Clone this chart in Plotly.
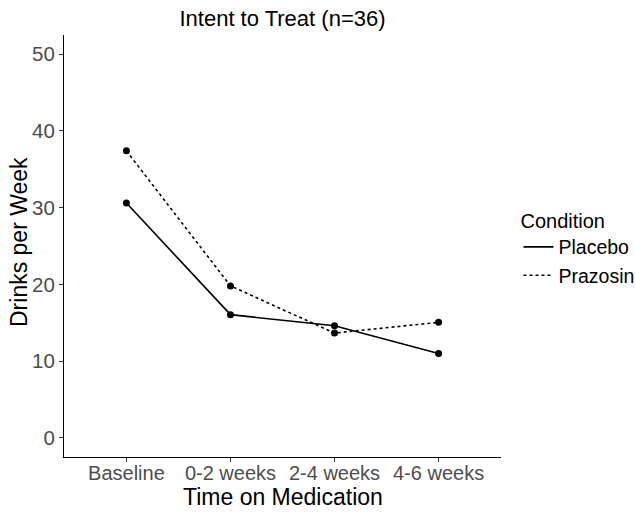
import plotly.graph_objects as go

categories = ["Baseline", "0-2 weeks", "2-4 weeks", "4-6 weeks"]
placebo = [30.6, 16.05, 14.6, 11.0]
prazosin = [37.4, 19.8, 13.65, 15.05]
y_ticks = [0, 10, 20, 30, 40, 50]

FONT = "Liberation Sans, Arial, sans-serif"
L, R, T, B = 64, 134, 35, 55
W, H = 635, 512
PH = H - T - B

fig = go.Figure()
for name, vals, dash in [("Placebo", placebo, "solid"), ("Prazosin", prazosin, "dot")]:
    fig.add_trace(go.Scatter(
        x=[1, 2, 3, 4], y=vals, name=name, mode="lines",
        line=dict(color="black", width=1.6, dash=dash),
    ))
for name, vals in [("Placebo", placebo), ("Prazosin", prazosin)]:
    fig.add_trace(go.Scatter(
        x=[1, 2, 3, 4], y=vals, name=name, mode="markers", showlegend=False,
        marker=dict(color="black", size=7),
    ))

fig.update_layout(
    width=W, height=H,
    margin=dict(l=L, r=R, t=T, b=B, autoexpand=False),
    paper_bgcolor="white", plot_bgcolor="white",
    font=dict(family=FONT, color="black"),
    title=dict(text="Intent to Treat (n=36)", x=(L + (W - R)) / 2 / W, xanchor="center",
               y=1 - 18 / H, yanchor="middle", font=dict(size=22, color="black")),
    xaxis=dict(
        range=[0.4, 4.6], tickmode="array", tickvals=[1, 2, 3, 4], ticktext=categories,
        showline=True, linecolor="black", linewidth=1.2, showgrid=False, zeroline=False,
        ticks="outside", ticklen=4, tickcolor="#333333", tickwidth=1, automargin=False,
        tickfont=dict(size=20, color="#4d4d4d"), ticklabelstandoff=-6,
    ),
    yaxis=dict(
        range=[-2.5, 52.5], tickmode="array", tickvals=y_ticks,
        showline=True, linecolor="black", linewidth=1.2, showgrid=False, zeroline=False,
        ticks="outside", ticklen=4, tickcolor="#333333", tickwidth=1, automargin=False,
        tickfont=dict(size=20.5, color="#4d4d4d"),
    ),
    legend=dict(
        x=1.04, xanchor="left", y=0.605, yanchor="top",
        title=dict(text="Condition", font=dict(size=20, color="black")),
        font=dict(size=19.5, color="black"), itemwidth=30, tracegroupgap=0,
        bgcolor="rgba(0,0,0,0)",
    ),
    annotations=[
        dict(text="Time on Medication", xref="paper", yref="paper",
             x=0.5, y=-(497 - (H - B)) / PH, xanchor="center", yanchor="middle",
             showarrow=False, font=dict(size=23, color="black")),
        dict(text="Drinks per Week", xref="paper", yref="paper",
             x=-(L - 19) / (W - L - R), y=(H - B - 242) / PH, xanchor="center", yanchor="middle",
             textangle=-90, showarrow=False, font=dict(size=23, color="black")),
    ],
)

fig.write_html("out.html", config={"displayModeBar": False},
               post_script="document.body.style.margin='0px';")
